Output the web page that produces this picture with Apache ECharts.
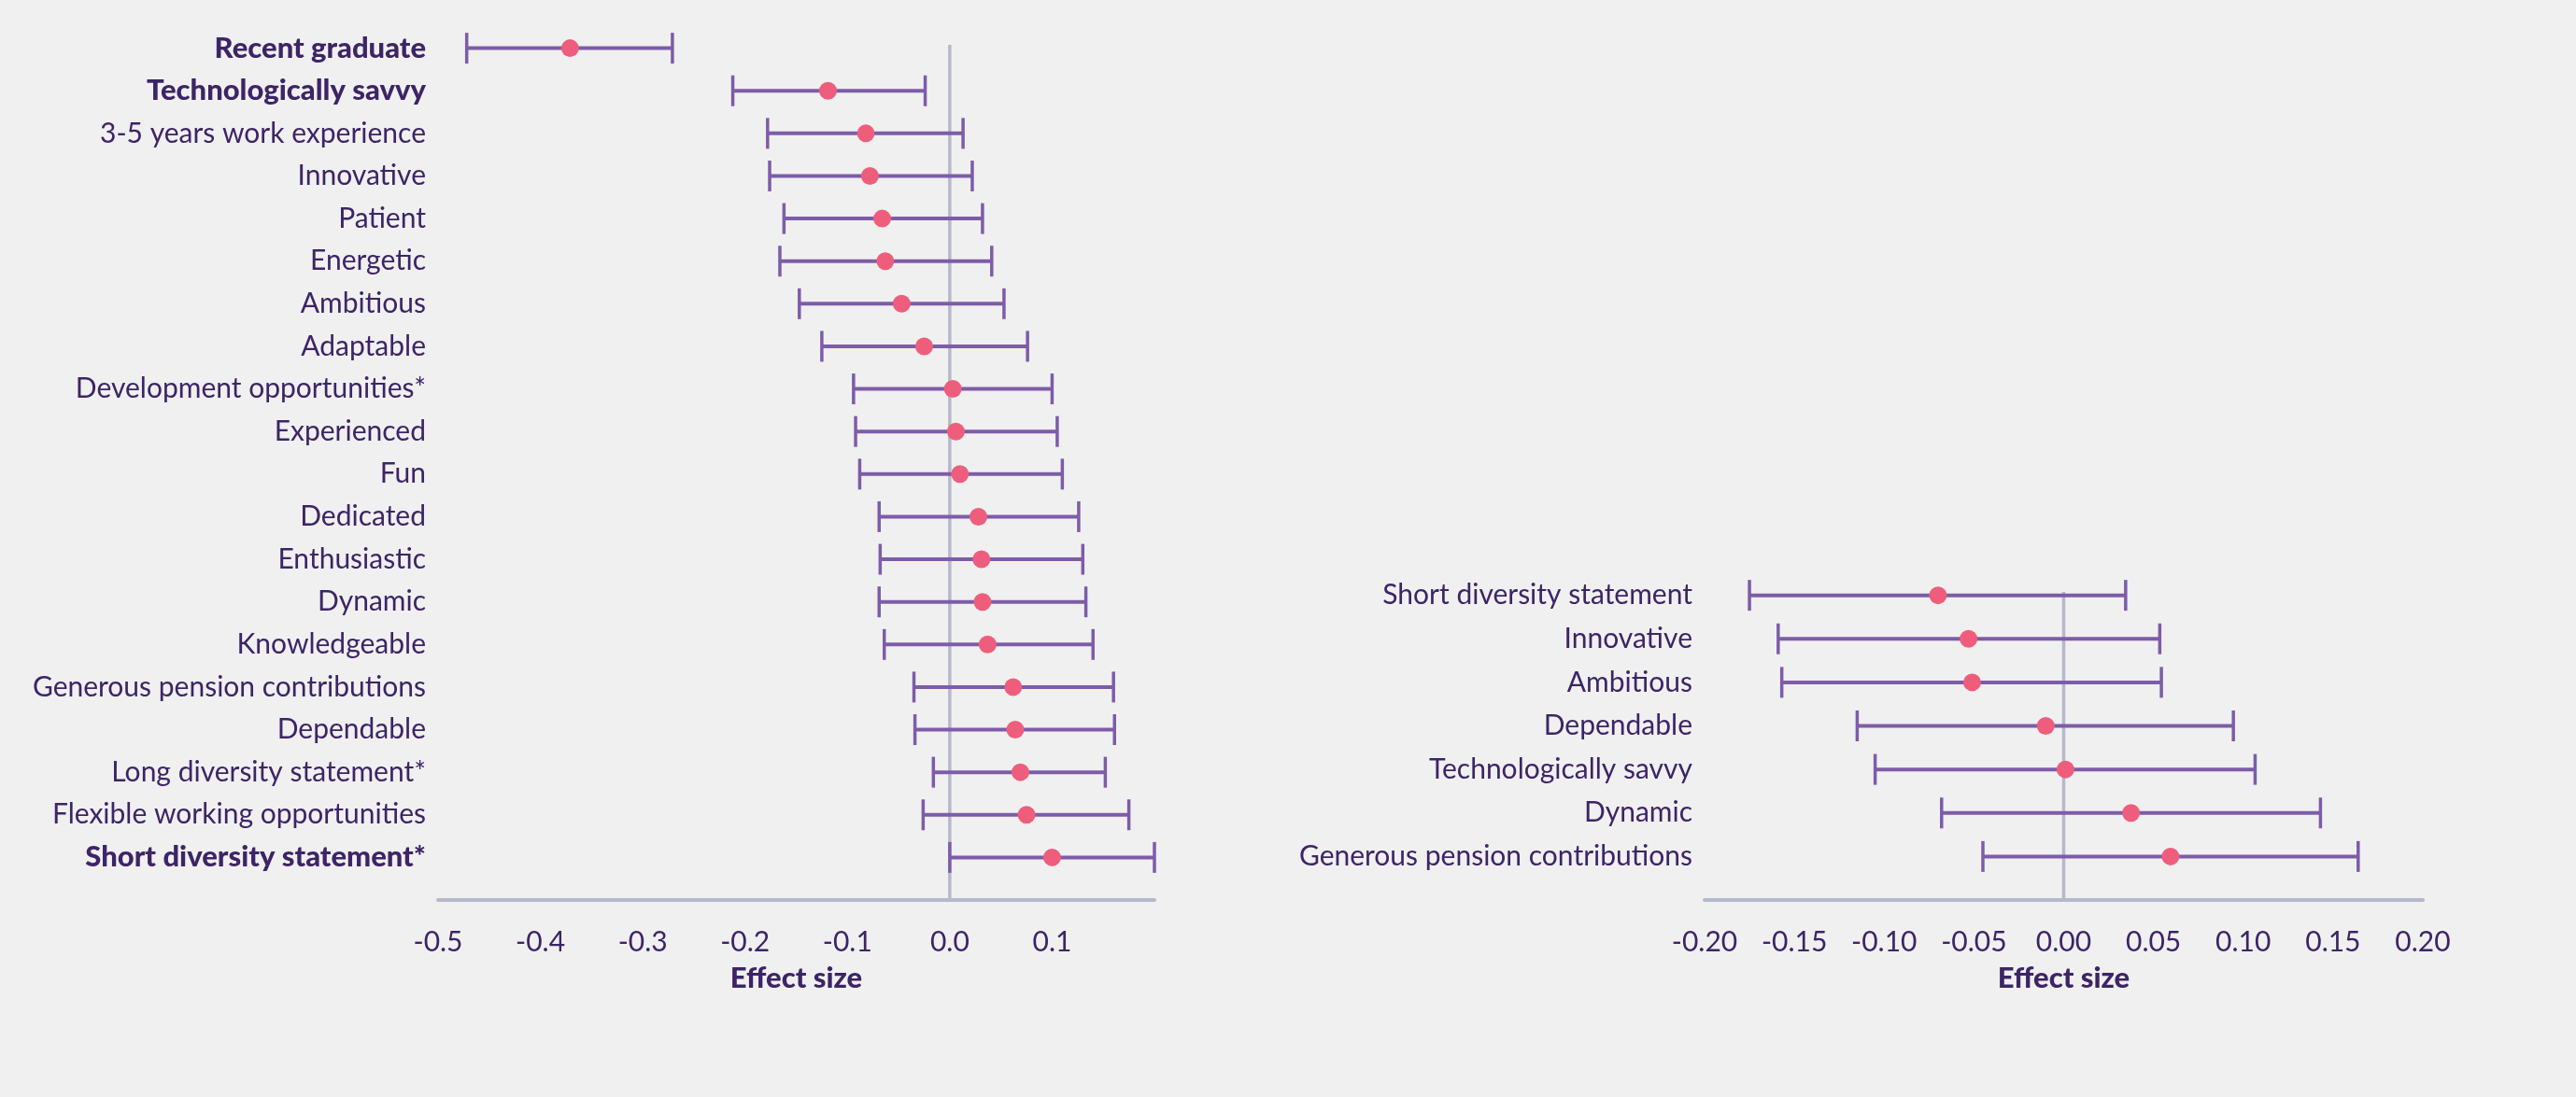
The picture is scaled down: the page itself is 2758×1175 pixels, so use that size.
<!DOCTYPE html>
<html>
<head>
<meta charset="utf-8">
<style>
  html, body { margin: 0; padding: 0; background: #f0f0f0; }
  #chart { width: 2758px; height: 1175px; }
</style>
<script src="https://cdn.jsdelivr.net/npm/echarts@6/dist/echarts.min.js"></script>
</head>
<body>
<div id="chart"></div>
<script>
// Left panel: attributes and benefits, effect size with 95% interval
const leftCategories = [
  'Recent graduate', 'Technologically savvy', '3-5 years work experience', 'Innovative',
  'Patient', 'Energetic', 'Ambitious', 'Adaptable', 'Development opportunities*',
  'Experienced', 'Fun', 'Dedicated', 'Enthusiastic', 'Dynamic', 'Knowledgeable',
  'Generous pension contributions', 'Dependable', 'Long diversity statement*',
  'Flexible working opportunities', 'Short diversity statement*'
];
const leftEstimate = [-0.371, -0.119, -0.082, -0.078, -0.066, -0.063, -0.047, -0.025, 0.003,
  0.006, 0.010, 0.028, 0.031, 0.032, 0.037, 0.062, 0.064, 0.069, 0.075, 0.100];
const leftLow = [-0.472, -0.212, -0.178, -0.176, -0.162, -0.166, -0.147, -0.125, -0.094,
  -0.092, -0.088, -0.069, -0.068, -0.069, -0.064, -0.035, -0.034, -0.016, -0.026, 0.000];
const leftHigh = [-0.271, -0.024, 0.013, 0.022, 0.032, 0.041, 0.053, 0.076, 0.100,
  0.105, 0.110, 0.126, 0.130, 0.133, 0.140, 0.160, 0.161, 0.152, 0.175, 0.200];
const leftBold = ['Recent graduate', 'Technologically savvy', 'Short diversity statement*'];
const leftTicks = { min: -0.5, max: 0.2, interval: 0.1, decimals: 1, hidden: [0.2] };

// Right panel
const rightCategories = [
  'Short diversity statement', 'Innovative', 'Ambitious', 'Dependable',
  'Technologically savvy', 'Dynamic', 'Generous pension contributions'
];
const rightEstimate = [-0.070, -0.053, -0.051, -0.010, 0.001, 0.0375, 0.0595];
const rightLow = [-0.175, -0.159, -0.157, -0.115, -0.105, -0.068, -0.045];
const rightHigh = [0.0345, 0.0535, 0.0544, 0.0945, 0.1066, 0.143, 0.164];
const rightBold = [];
const rightTicks = { min: -0.2, max: 0.2, interval: 0.05, decimals: 2, hidden: [] };

const TEXT = '#3d2466';
const BAR = '#7d5ca8';
const DOT = '#ee5e7c';
const AXIS = '#b5b9ca';
const FONT = 'Lato';
const SIZE = 30;

const chart = echarts.init(document.getElementById('chart'), null, { renderer: 'canvas' });

function panel(idx, cats, est, low, high, bold, ticks) {
  const n = cats.length;
  const xAxis = {
    gridIndex: idx, type: 'value', position: 'bottom',
    min: ticks.min, max: ticks.max, interval: ticks.interval,
    name: 'Effect size', nameLocation: 'middle', nameGap: 68,
    nameTextStyle: { color: TEXT, fontFamily: FONT, fontWeight: 900, fontSize: 31 },
    axisLine: { show: true, onZero: false, lineStyle: { color: AXIS, width: 4 } },
    axisTick: { show: false }, splitLine: { show: false },
    axisLabel: {
      color: TEXT, fontFamily: FONT, fontSize: SIZE, margin: 30,
      formatter: v => ticks.hidden.some(h => Math.abs(h - v) < 1e-9) ? '' : v.toFixed(ticks.decimals)
    }
  };
  const yAxis = {
    gridIndex: idx, type: 'value', inverse: true, min: -1, max: n, interval: 1,
    axisLine: { show: false }, axisTick: { show: false }, splitLine: { show: false },
    axisLabel: {
      margin: 13, color: TEXT, fontFamily: FONT, fontSize: SIZE,
      formatter: v => {
        const name = cats[v];
        if (name === undefined) return '';
        return bold.includes(name) ? '{b|' + name + '}' : name;
      },
      rich: { b: { color: TEXT, fontFamily: FONT, fontSize: 31, fontWeight: 900 } }
    }
  };
  const zeroLine = {
    type: 'line', xAxisIndex: idx, yAxisIndex: idx, silent: true, symbol: 'none', z: 1,
    lineStyle: { color: AXIS, width: 3.5 },
    data: [[0, -0.08], [0, n]]
  };
  const errorBars = {
    type: 'custom', xAxisIndex: idx, yAxisIndex: idx, z: 2,
    data: cats.map((c, i) => [low[i], high[i], i]),
    renderItem: (params, api) => {
      const a = api.coord([api.value(0), api.value(2)]);
      const b = api.coord([api.value(1), api.value(2)]);
      const h = 16.5;
      const whisker = { stroke: BAR, lineWidth: 3.5 };
      return {
        type: 'group',
        children: [
          { type: 'line', shape: { x1: a[0], y1: a[1], x2: b[0], y2: b[1] }, style: { stroke: BAR, lineWidth: 4 } },
          { type: 'line', shape: { x1: a[0], y1: a[1] - h, x2: a[0], y2: a[1] + h }, style: whisker },
          { type: 'line', shape: { x1: b[0], y1: b[1] - h, x2: b[0], y2: b[1] + h }, style: whisker }
        ]
      };
    }
  };
  const points = {
    type: 'scatter', xAxisIndex: idx, yAxisIndex: idx, z: 3,
    symbol: 'circle', symbolSize: 19, itemStyle: { color: DOT, opacity: 1 },
    data: est.map((v, i) => [v, i])
  };
  return { xAxis, yAxis, series: [zeroLine, errorBars, points] };
}

const L = panel(0, leftCategories, leftEstimate, leftLow, leftHigh, leftBold, leftTicks);
const R = panel(1, rightCategories, rightEstimate, rightLow, rightHigh, rightBold, rightTicks);

chart.setOption({
  backgroundColor: '#f0f0f0',
  animation: false,
  textStyle: { fontFamily: FONT },
  grid: [
    { left: 469, width: 767, top: 6, height: 958 },
    { left: 1825, width: 769, top: 591, height: 373 }
  ],
  xAxis: [L.xAxis, R.xAxis],
  yAxis: [L.yAxis, R.yAxis],
  series: [...L.series, ...R.series]
});
</script>
</body>
</html>
